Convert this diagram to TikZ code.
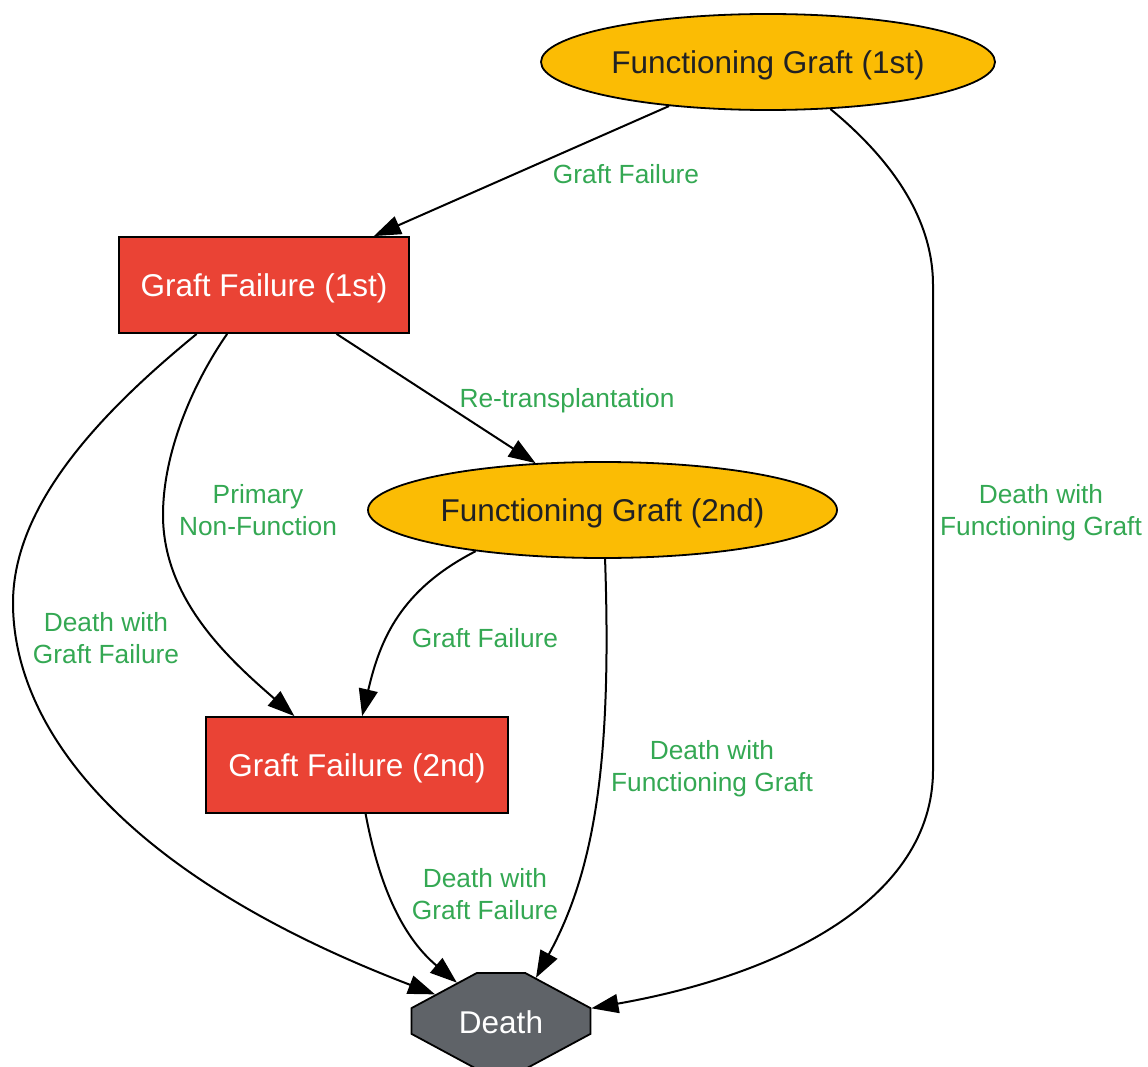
\documentclass[tikz,border=0pt]{standalone}
\usepackage{fontspec}
\setmainfont{Liberation Sans}
\usetikzlibrary{arrows.meta}
\usetikzlibrary{shapes.geometric,shapes.misc}
\definecolor{gyellow}{HTML}{FBBC04}
\definecolor{gred}{HTML}{EA4335}
\definecolor{ggray}{HTML}{5F6368}
\definecolor{ggreen}{HTML}{34A853}
\definecolor{gdark}{HTML}{202124}
\tikzstyle{working}=[ellipse,fill=gyellow,draw=black,line width=1.8pt,inner sep=0pt,minimum height=96pt,text depth=0pt,text=gdark,font=\fontsize{31.5}{36}\selectfont]
\tikzstyle{failed}=[rectangle,fill=gred,draw=black,line width=1.8pt,inner sep=0pt,minimum height=96pt,text depth=0pt,text=white,font=\fontsize{31.5}{36}\selectfont]
\tikzstyle{dead}=[chamfered rectangle,chamfered rectangle angle=61.7,chamfered rectangle xsep=52pt,chamfered rectangle ysep=28pt,fill=ggray,draw=black,line width=1.8pt,inner sep=0pt,minimum width=179pt,minimum height=96pt,text height=25pt,text depth=0pt,text=white,font=\fontsize{31.5}{36}\selectfont]
\tikzstyle{weight}=[align=center,text=ggreen,font=\fontsize{26.3}{32}\selectfont]
\tikzstyle{move}=[-{Triangle[length=27pt,width=19pt]},line width=2pt]

\begin{document}
\begin{tikzpicture}[x=1pt,y=-1pt]
\useasboundingbox (0,0) rectangle (1148,1067);

%states
\node[working,minimum width=454pt] (fgone) at (768,62) {Functioning Graft (1st)};
\node[failed,minimum width=290pt] (gfone) at (264,285) {Graft Failure (1st)};
\node[working,minimum width=469pt] (fgtwo) at (602.5,510) {Functioning Graft (2nd)};
\node[failed,minimum width=302pt] (gftwo) at (357,765) {Graft Failure (2nd)};
\node[dead] (death) at (501,1021) {Death};

%transitions
\draw[move] (fgone.204) -- (gfone.24);
\draw[move] (fgone.-37.5) .. controls (880,150) and (933,210) .. (933,285) -- (933,770)
    .. controls (933,900) and (780,975) .. (death.8.8);
\draw[move] (gfone.-34) -- (fgtwo.145.4);
\draw[move] (gfone.233) .. controls (195,380) and (163,450) .. (163,515)
    .. controls (163,600) and (230,660) .. (gftwo.142);
\draw[move] (gfone.216.4) .. controls (110,405) and (13,500) .. (13,603)
    .. controls (13,720) and (110,870) .. (death.158.6);
\draw[move] (fgtwo.198.5) .. controls (400,590) and (380,640) .. (gftwo.84);
\draw[move] (fgtwo.-87) .. controls (612,760) and (595,870) .. (death.51);
\draw[move] (gftwo.-80.5) .. controls (378,880) and (400,935) .. (death.139);

%labels
\foreach \pos/\name/\text in {{(626,174)/lone/Graft Failure}, {(1041,513)/ltwo/Death with\\Functioning Graft},
    {(567,401)/lthree/Re-transplantation}, {(258,510)/lfour/Primary\\Non-Function},
    {(106,638)/lfive/Death with\\Graft Failure}, {(485,638)/lsix/Graft Failure},
    {(712,769)/lseven/Death with\\Functioning Graft}, {(485,894)/leight/Death with\\Graft Failure}}
    \node[weight] (\name) at \pos {\text};

\end{tikzpicture}
\end{document}
